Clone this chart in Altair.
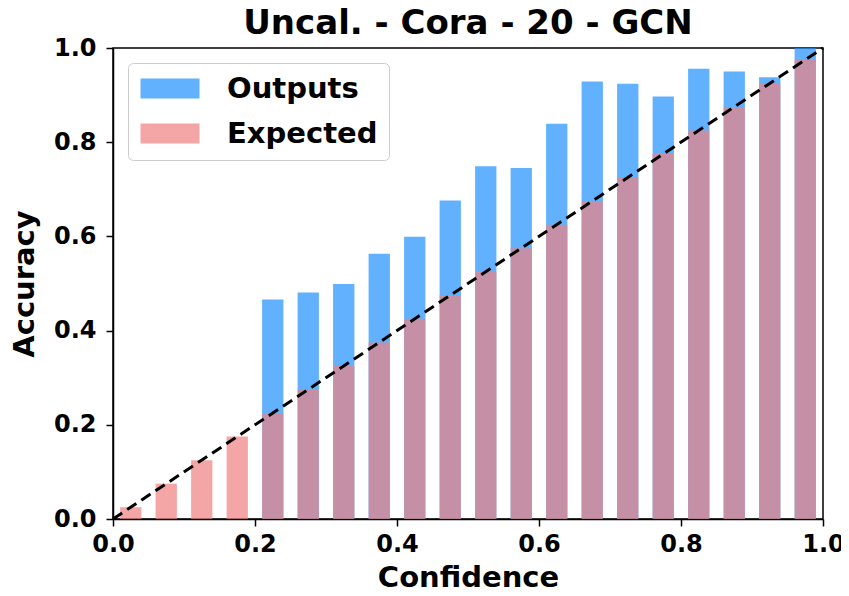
import altair as alt
import pandas as pd

# ---- data ----
bin_centers = [0.025, 0.075, 0.125, 0.175, 0.225, 0.275, 0.325, 0.375, 0.425, 0.475,
               0.525, 0.575, 0.625, 0.675, 0.725, 0.775, 0.825, 0.875, 0.925, 0.975]
outputs = [None, None, None, None, 0.466, 0.481, 0.499, 0.563, 0.599, 0.676,
           0.749, 0.745, 0.839, 0.929, 0.924, 0.897, 0.956, 0.950, 0.938, 1.0]
expected = [0.025, 0.075, 0.125, 0.175, 0.225, 0.275, 0.325, 0.375, 0.425, 0.475,
            0.525, 0.575, 0.625, 0.675, 0.725, 0.775, 0.825, 0.875, 0.925, 0.975]
series_names = ["Outputs", "Expected"]
diag_x = [0.0, 1.0]
diag_y = [0.0, 1.0]
tick_values = [0.0, 0.2, 0.4, 0.6, 0.8, 1.0]
title_text = "Uncal. - Cora - 20 - GCN"

BAR_HALF = 0.015
FONT = "DejaVu Sans"

df_out = pd.DataFrame({"conf": bin_centers, "acc": outputs}).dropna()
df_out["series"] = "Outputs"
df_exp = pd.DataFrame({"conf": bin_centers, "acc": expected})
df_exp["series"] = "Expected"
df_diag = pd.DataFrame({"x": diag_x, "y": diag_y})

x_scale = alt.Scale(domain=[0, 1], nice=False)
y_scale = alt.Scale(domain=[0, 1], nice=False)
color_scale = alt.Scale(domain=series_names, range=["#1e90ff", "#f08080"])

x_axis = alt.Axis(title="Confidence", values=tick_values, format=".1f",
                  labelPadding=6, titlePadding=7, labelFlush=False)
y_axis = alt.Axis(title="Accuracy", values=tick_values, format=".1f",
                  labelPadding=10, titlePadding=14, labelFlush=False)

legend = alt.Legend(
    title=None, orient="none", legendX=15, legendY=15,
    symbolType="M-1.3,-1H4.6V1H-1.3Z", symbolSize=400, symbolOpacity=0.7,
    symbolStrokeWidth=0,
    labelFont=FONT, labelFontSize=29, labelFontWeight="bold", labelColor="black",
    labelOffset=59, labelLimit=400, padding=11, rowPadding=15,
    fillColor="white", strokeColor="#cccccc", cornerRadius=5,
)


def bars(df, with_legend):
    return alt.Chart(df).transform_calculate(
        lo=f"datum.conf - {BAR_HALF}", hi=f"datum.conf + {BAR_HALF}"
    ).mark_bar(opacity=0.7).encode(
        x=alt.X("lo:Q", scale=x_scale, axis=x_axis),
        x2="hi:Q",
        y=alt.Y("acc:Q", scale=y_scale, axis=y_axis),
        y2=alt.datum(0),
        color=alt.Color("series:N", scale=color_scale,
                        legend=legend if with_legend else None),
    )


out_bars = bars(df_out, True)
exp_bars = bars(df_exp, True)

diag = alt.Chart(df_diag).mark_line(
    color="black", strokeDash=[11, 6], strokeWidth=3
).encode(x=alt.X("x:Q", scale=x_scale), y=alt.Y("y:Q", scale=y_scale))

chart = alt.layer(out_bars, exp_bars, diag).properties(
    width=710, height=471,
    title=alt.TitleParams(title_text, font=FONT, fontSize=34, fontWeight="bold",
                          color="black", anchor="middle", offset=-5),
    autosize=alt.AutoSizeParams(type="none"),
    padding={"left": 105, "top": 40, "right": 18, "bottom": 69},
).configure_view(
    stroke="black", strokeWidth=1.5
).configure_axis(
    labelFont=FONT, labelFontSize=24, labelFontWeight="bold", labelColor="black",
    titleFont=FONT, titleFontSize=29, titleFontWeight="bold", titleColor="black",
    tickColor="black", domainColor="black", tickSize=7, tickWidth=1.5,
    domainWidth=1.5, grid=False, labelOverlap=False,
)

chart.save("out.html", embed_options={"renderer": "svg", "actions": False})
